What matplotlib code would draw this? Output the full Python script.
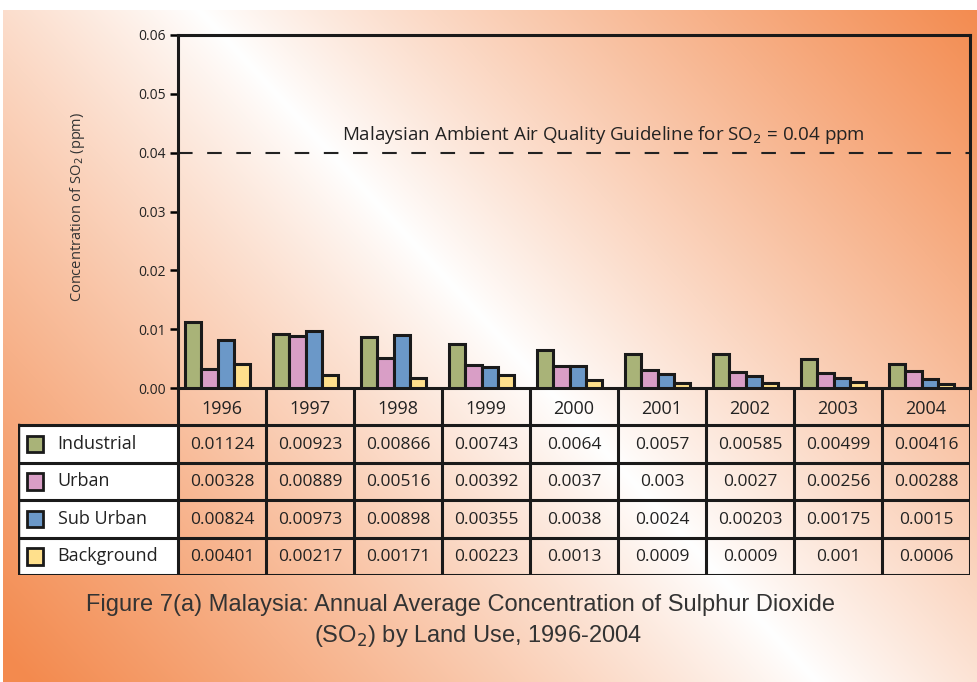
"""Bar chart with data table: annual SO2 concentration by land use, Malaysia."""
import numpy as np
import matplotlib
matplotlib.use("Agg")
import matplotlib.pyplot as plt
from matplotlib.patches import Rectangle

years = ['1996', '1997', '1998', '1999', '2000', '2001', '2002', '2003', '2004']
industrial = [0.01124, 0.00923, 0.00866, 0.00743, 0.0064, 0.0057, 0.00585, 0.00499, 0.00416]
urban = [0.00328, 0.00889, 0.00516, 0.00392, 0.0037, 0.003, 0.0027, 0.00256, 0.00288]
sub_urban = [0.00824, 0.00973, 0.00898, 0.00355, 0.0038, 0.0024, 0.00203, 0.00175, 0.0015]
background = [0.00401, 0.00217, 0.00171, 0.00223, 0.0013, 0.0009, 0.0009, 0.001, 0.0006]
series_names = ['Industrial', 'Urban', 'Sub Urban', 'Background']
guideline = 0.04

colors = ['#A9B378', '#D99EC6', '#6B98C8', '#FFE08C']
series = [industrial, urban, sub_urban, background]

W, H = 977, 682
fig = plt.figure(figsize=(W / 100, H / 100), dpi=100)
fig.patch.set_facecolor('white')

# background gradient (white diagonal band, orange corners)
bg = fig.add_axes([3 / W, 0, 1 - 3 / W, (H - 10) / H], zorder=-10)
yy, xx = np.mgrid[10:H, 3:W]
d = (xx - 190) * 0.736 - yy * 0.677
f = np.clip(np.abs(d) / 580, 0, 1) ** 0.9
white = np.array([255, 255, 255]) / 255
orange = np.array([243, 138, 78]) / 255
img = white[None, None, :] * (1 - f[..., None]) + orange[None, None, :] * f[..., None]
bg.imshow(img, aspect='auto', interpolation='bilinear')
bg.axis('off')

# main bar axes
x0, x1, ytop, ybot = 178, 970, 35, 388
ax = fig.add_axes([x0 / W, 1 - ybot / H, (x1 - x0) / W, (ybot - ytop) / H])
ax.set_facecolor('none')
x = np.arange(len(years))
bw = 0.185
for i, (vals, c) in enumerate(zip(series, colors)):
    ax.bar(x + (i - 1.5) * bw - 0.05, vals, bw, color=c, edgecolor='#1a1a1a',
           linewidth=2.2, zorder=3)
ax.axhline(guideline, color='#222222', linestyle=(0, (7, 7)), linewidth=1.5)
ax.text(4.335, 0.0412, 'Malaysian Ambient Air Quality Guideline for SO$_2$ = 0.04 ppm',
        ha='center', va='bottom', fontsize=13.5, family='Open Sans', color='#222222')
ax.set_xlim(-0.5, 8.5)
ax.set_ylim(0, 0.06)
ax.set_yticks(np.arange(0, 0.061, 0.01))
ax.set_yticklabels(['%.2f' % v for v in np.arange(0, 0.061, 0.01)], fontsize=10,
                   family='Open Sans', color='#222222')
ax.set_xticks([])
ax.tick_params(axis='y', direction='out', length=6, width=1.8, pad=3)
for s in ['left', 'top', 'right', 'bottom']:
    ax.spines[s].set_linewidth(2.2)
    ax.spines[s].set_color('#1a1a1a')
ax.set_ylabel('Concentration of SO$_2$ (ppm)', fontsize=10.5, family='Open Sans',
              color='#333333')
ax.yaxis.set_label_coords(-(x0 - 87) / (x1 - x0), 0.513)

# data table below
tl, tb = 18, 575
colw = (x1 - x0) / len(years)
lab_w = (x0 - tl) / colw
tax = fig.add_axes([tl / W, 1 - tb / H, (x1 - tl) / W, (tb - ybot) / H])
tax.set_facecolor('none')
tax.axis('off')
tax.set_xlim(-0.5 - lab_w, 8.5)
tax.set_ylim(5, 0)
lc = '#1a1a1a'
tax.add_patch(Rectangle((-0.5 - lab_w, 1), lab_w, 4, facecolor='white', edgecolor='none'))
for k in range(len(years) + 1):
    tax.plot([k - 0.5, k - 0.5], [0, 5], color=lc, lw=2.2, solid_capstyle='projecting')
tax.plot([-0.5 - lab_w, -0.5 - lab_w], [1, 5], color=lc, lw=2.5, solid_capstyle='projecting')
for r in range(1, 6):
    tax.plot([-0.5 - lab_w, 8.5], [r, r], color=lc, lw=2.2, solid_capstyle='projecting')
for j, yr in enumerate(years):
    tax.text(j, 0.55, yr, ha='center', va='center', fontsize=13, family='Open Sans',
             color='#222222')
for r, (name, vals, c) in enumerate(zip(series_names, series, colors)):
    yc = r + 1.5
    tax.add_patch(Rectangle((-0.5 - lab_w + 0.1, yc - 0.22), 0.18, 0.44, facecolor=c,
                            edgecolor=lc, linewidth=2))
    tax.text(-0.5 - lab_w + 0.45, yc, name, ha='left', va='center', fontsize=13,
             family='Open Sans', color='#222222')
    for j, v in enumerate(vals):
        tax.text(j, yc + 0.02, str(v), ha='center', va='center', fontsize=12.5,
                 family='Open Sans', color='#222222')

fig.text(460 / W, 1 - 605 / H,
         'Figure 7(a) Malaysia: Annual Average Concentration of Sulphur Dioxide',
         ha='center', va='center', fontsize=17, family='Liberation Sans', color='#333333')
fig.text(478 / W, 1 - 636 / H, '(SO$_2$) by Land Use, 1996-2004',
         ha='center', va='center', fontsize=17, family='Liberation Sans', color='#333333')

plt.savefig('out.png', dpi=100)
